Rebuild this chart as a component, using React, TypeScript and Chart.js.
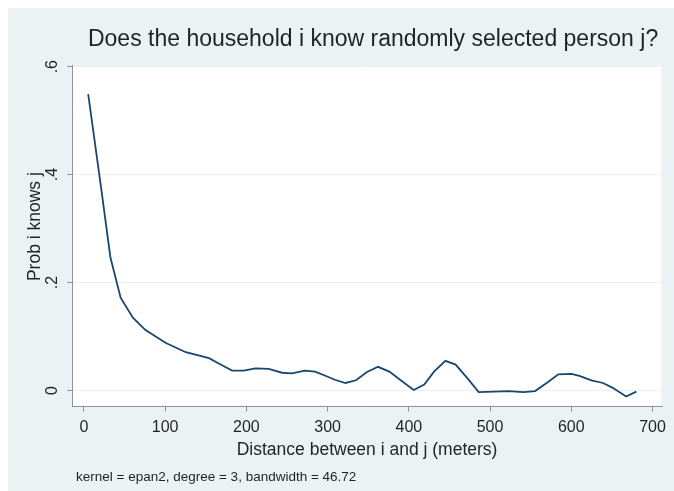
import React, { useEffect, useRef } from "react";
import { Chart, registerables } from "chart.js";

Chart.register(...registerables);

// ---- data ----
const distances = [
  5.3, 21.6, 32.6, 45.2, 60.3, 75.8, 101, 125.5, 154, 170, 182.5, 197, 211,
  227.5, 244, 256, 272, 284.5, 298, 309, 322, 335, 348, 362, 376, 390, 406,
  419, 431, 445, 457.6, 472, 486, 504.5, 523, 541, 555.4, 569.7, 584, 600,
  610, 624.7, 639, 651, 667.5, 680,
];
const probs = [
  0.549, 0.371, 0.247, 0.172, 0.135, 0.112, 0.088, 0.071, 0.06, 0.047, 0.037,
  0.037, 0.041, 0.04, 0.033, 0.032, 0.037, 0.035, 0.027, 0.02, 0.014, 0.019,
  0.034, 0.044, 0.035, 0.019, 0.001, 0.011, 0.035, 0.055, 0.048, 0.023,
  -0.003, -0.002, -0.001, -0.003, -0.001, 0.014, 0.03, 0.031, 0.027, 0.019,
  0.014, 0.005, -0.011, -0.002,
];
const xTickValues = [0, 100, 200, 300, 400, 500, 600, 700];
const yTickValues = [0, 0.2, 0.4, 0.6];
const yTickLabels = ["0", ".2", ".4", ".6"];
const titleText = "Does the household i know randomly selected person j?";
const xTitleText = "Distance between i and j (meters)";
const yTitleText = "Prob i knows j";
const noteText = "kernel = epan2, degree = 3, bandwidth = 46.72";

const FONT = '"Liberation Sans", Arial, Helvetica, sans-serif';
const TEXT = "#1f2226";
const AXIS = "#8e9497";
const GRID = "#e9f0f2";
const BG = "#eaf2f3";
const LINE = "#1a476f";

export default function App() {
  const ref = useRef<HTMLCanvasElement | null>(null);

  useEffect(() => {
    const canvas = ref.current;
    if (!canvas) return;

    const stataPlugin = {
      id: "stataDecor",
      beforeDraw(chart: any) {
        const { ctx, chartArea: a } = chart;
        ctx.save();
        ctx.fillStyle = BG;
        ctx.fillRect(0, 0, chart.width, chart.height);
        ctx.fillStyle = "#ffffff";
        ctx.fillRect(a.left, a.top, a.right - a.left, a.bottom - a.top);
        ctx.strokeStyle = "#f1f6f7";
        ctx.lineWidth = 1;
        ctx.strokeRect(a.left + 0.5, a.top + 0.5, a.right - a.left - 1, a.bottom - a.top - 1);
        ctx.restore();
      },
      afterDraw(chart: any) {
        const { ctx, chartArea: a } = chart;
        const ys = chart.scales.y;
        ctx.save();
        ctx.fillStyle = TEXT;
        // title
        ctx.font = `23px ${FONT}`;
        ctx.textAlign = "center";
        ctx.textBaseline = "middle";
        ctx.fillText(titleText, (a.left + a.right) / 2 + 6, 32);
        // rotated y tick labels
        ctx.font = `16px ${FONT}`;
        yTickValues.forEach((v, i) => {
          const py = ys.getPixelForValue(v);
          ctx.save();
          ctx.translate(a.left - 19, py);
          ctx.rotate(-Math.PI / 2);
          ctx.fillText(yTickLabels[i], 0, 0);
          ctx.restore();
        });
        // y axis title
        ctx.font = `17.5px ${FONT}`;
        ctx.save();
        ctx.translate(a.left - 36.5, ys.getPixelForValue(0.3) - 2);
        ctx.rotate(-Math.PI / 2);
        ctx.fillText(yTitleText, 0, 0);
        ctx.restore();
        // note
        ctx.font = `13.5px ${FONT}`;
        ctx.textAlign = "left";
        ctx.textBaseline = "alphabetic";
        ctx.fillText(noteText, 68, 472.7);
        ctx.restore();
      },
    };

    const chart = new Chart(canvas, {
      type: "line",
      data: {
        datasets: [
          {
            data: distances.map((d, i) => ({ x: d, y: probs[i] })),
            borderColor: LINE,
            borderWidth: 1.8,
            pointRadius: 0,
            tension: 0,
            fill: false,
          },
        ],
      },
      options: {
        animation: false,
        responsive: false,
        devicePixelRatio: 1,
        layout: { padding: { left: 59, right: 7, top: 57, bottom: 32 } },
        plugins: {
          legend: { display: false },
          tooltip: { enabled: false },
          title: { display: false },
        },
        scales: {
          x: {
            type: "linear",
            min: -14.65,
            max: 711.8,
            afterBuildTicks: (s: any) => {
              s.ticks = xTickValues.map((v) => ({ value: v }));
            },
            grid: {
              drawOnChartArea: false,
              tickLength: 5,
              tickColor: AXIS,
              color: AXIS,
            },
            border: { display: true, color: AXIS, width: 1 },
            ticks: {
              font: { family: FONT, size: 16, lineHeight: 1 },
              color: TEXT,
              padding: 8,
              maxRotation: 0,
              minRotation: 0,
              autoSkip: false,
              callback: (v: any) => String(v),
            },
            title: {
              display: true,
              text: xTitleText,
              font: { family: FONT, size: 17.5, lineHeight: 1 },
              color: TEXT,
              padding: { top: -2, bottom: 0 },
            },
          },
          y: {
            type: "linear",
            min: -0.02955,
            max: 0.6031,
            afterBuildTicks: (s: any) => {
              s.ticks = yTickValues.map((v) => ({ value: v }));
            },
            grid: {
              color: GRID,
              tickLength: 5,
              tickColor: AXIS,
            },
            border: { display: true, color: AXIS, width: 1 },
            ticks: { display: false },
          },
        },
      },
      plugins: [stataPlugin],
    } as any);

    return () => chart.destroy();
  }, []);

  return (
    <div style={{ position: "fixed", left: 8, top: 8, width: 666, height: 483 }}>
      <canvas
        ref={ref}
        width={666}
        height={483}
        style={{ display: "block", width: 666, height: 483 }}
      />
    </div>
  );
}
